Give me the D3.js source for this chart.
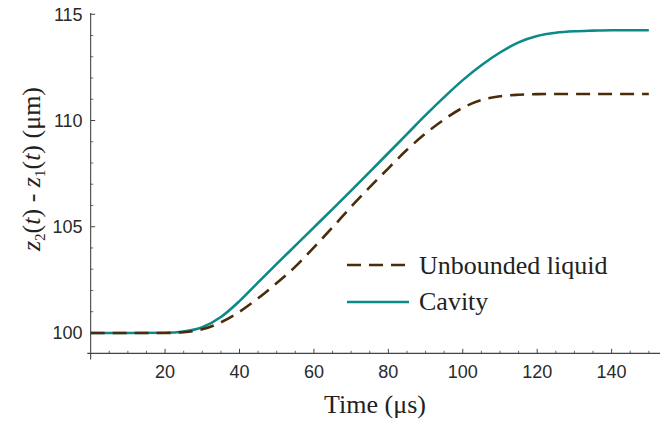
<!DOCTYPE html>
<html>
<head>
<meta charset="utf-8">
<script src="https://cdn.jsdelivr.net/npm/d3@7"></script>
<style>
  html, body { margin: 0; padding: 0; background: #ffffff; }
  svg { display: block; }
</style>
</head>
<body>
<svg id="chart" width="670" height="425"></svg>
<script>
// ---- data ----
const timeUs = [0, 10, 20, 25, 30, 35, 40, 45, 50, 55, 60, 65, 70, 75, 80, 85, 90, 95, 100, 105, 110, 115, 120, 125, 130, 135, 140, 145, 150];
const unboundedLiquid = [100, 100, 100.0, 100.04, 100.17, 100.5, 101.0, 101.63, 102.35, 103.12, 104.03, 104.97, 105.94, 106.86, 107.75, 108.62, 109.39, 110.05, 110.6, 110.96, 111.14, 111.21, 111.24, 111.25, 111.25, 111.25, 111.25, 111.25, 111.25];
const cavity = [100, 100, 100.01, 100.07, 100.27, 100.75, 101.5, 102.38, 103.25, 104.11, 104.97, 105.83, 106.7, 107.58, 108.47, 109.36, 110.25, 111.1, 111.9, 112.6, 113.2, 113.68, 113.98, 114.13, 114.2, 114.23, 114.25, 114.25, 114.25];
const seriesNames = ["Unbounded liquid", "Cavity"];
const xMajorTicks = [20, 40, 60, 80, 100, 120, 140];
const xMinorTicks = [5, 10, 15, 25, 30, 35, 45, 50, 55, 65, 70, 75, 85, 90, 95, 105, 110, 115, 125, 130, 135, 145, 150];
const yMajorTicks = [100, 105, 110, 115];
const yMinorTicks = [101, 102, 103, 104, 106, 107, 108, 109, 111, 112, 113, 114];
const xLabel = "Time (μs)";

// ---- layout ----
const svg = d3.select("#chart");
const x = d3.scaleLinear().domain([-0.9, 153]).range([87.3, 660]);
const y = d3.scaleLinear().domain([98.75, 115.06]).range([359.5, 13]);
const axisY0 = 99.04;   // where the horizontal axis sits
const teal = "#0b8a87";
const brown = "#4a2d08";
const axisColor = "#444";
const labelColor = "#2a2a2a";

// axes lines
svg.append("line").attr("x1", x(-0.9)).attr("x2", x(153)).attr("y1", y(axisY0)).attr("y2", y(axisY0))
  .attr("stroke", axisColor).attr("stroke-width", 1.1);
svg.append("line").attr("x1", x(0)).attr("x2", x(0)).attr("y1", y(98.75)).attr("y2", y(115.06))
  .attr("stroke", axisColor).attr("stroke-width", 1.1);

// x ticks
svg.selectAll(".xmaj").data(xMajorTicks).join("line")
  .attr("x1", d => x(d)).attr("x2", d => x(d))
  .attr("y1", y(axisY0)).attr("y2", y(axisY0) - 4.5)
  .attr("stroke", axisColor).attr("stroke-width", 1);
svg.selectAll(".xmin").data(xMinorTicks).join("line")
  .attr("x1", d => x(d)).attr("x2", d => x(d))
  .attr("y1", y(axisY0)).attr("y2", y(axisY0) - 2.6)
  .attr("stroke", axisColor).attr("stroke-width", 0.8);
svg.selectAll(".xlab").data(xMajorTicks).join("text")
  .attr("x", d => x(d)).attr("y", y(axisY0) + 25)
  .attr("text-anchor", "middle")
  .attr("font-family", "Liberation Sans, Arial, sans-serif").attr("font-size", 18)
  .attr("fill", labelColor)
  .text(d => d);

// y ticks
svg.selectAll(".ymaj").data(yMajorTicks).join("line")
  .attr("x1", x(0)).attr("x2", x(0) + 4.5)
  .attr("y1", d => y(d)).attr("y2", d => y(d))
  .attr("stroke", axisColor).attr("stroke-width", 1);
svg.selectAll(".ymin").data(yMinorTicks).join("line")
  .attr("x1", x(0)).attr("x2", x(0) + 2.6)
  .attr("y1", d => y(d)).attr("y2", d => y(d))
  .attr("stroke", axisColor).attr("stroke-width", 0.8);
svg.selectAll(".ylab").data(yMajorTicks).join("text")
  .attr("x", x(0) - 8).attr("y", d => y(d) + 6.5)
  .attr("text-anchor", "end")
  .attr("font-family", "Liberation Sans, Arial, sans-serif").attr("font-size", 18)
  .attr("fill", labelColor)
  .text(d => d);

// curves
const line = d3.line().x((d, i) => x(timeUs[i])).y(d => y(d)).curve(d3.curveMonotoneX);
svg.append("path").datum(cavity).attr("d", line)
  .attr("fill", "none").attr("stroke", teal).attr("stroke-width", 2.6);
svg.append("path").datum(unboundedLiquid).attr("d", line)
  .attr("fill", "none").attr("stroke", brown).attr("stroke-width", 2.6)
  .attr("stroke-dasharray", "14,8");

// axis labels
svg.append("text")
  .attr("x", 375).attr("y", 413)
  .attr("text-anchor", "middle")
  .attr("font-family", "Liberation Serif, Times New Roman, serif").attr("font-size", 26)
  .attr("fill", "#222")
  .text(xLabel);

const yl = svg.append("text")
  .attr("transform", "translate(40,169) rotate(-90)")
  .attr("text-anchor", "middle")
  .attr("font-family", "Liberation Serif, Times New Roman, serif").attr("font-size", 26)
  .attr("fill", "#222");
yl.append("tspan").attr("font-style", "italic").text("z");
yl.append("tspan").attr("font-size", 15).attr("dy", 5).text("2");
yl.append("tspan").attr("dy", -5).text("(");
yl.append("tspan").attr("font-style", "italic").text("t");
yl.append("tspan").text(") - ");
yl.append("tspan").attr("font-style", "italic").text("z");
yl.append("tspan").attr("font-size", 15).attr("dy", 5).text("1");
yl.append("tspan").attr("dy", -5).text("(");
yl.append("tspan").attr("font-style", "italic").text("t");
yl.append("tspan").text(") (μm)");

// legend
const legend = svg.append("g");
const legendRows = [
  { name: seriesNames[0], color: brown, dash: "14,8", ly: 265, ty: 273.5 },
  { name: seriesNames[1], color: teal, dash: null, ly: 302, ty: 310 }
];
legendRows.forEach(r => {
  legend.append("line").attr("x1", 347).attr("x2", 409).attr("y1", r.ly).attr("y2", r.ly)
    .attr("stroke", r.color).attr("stroke-width", 2.6)
    .attr("stroke-dasharray", r.dash);
  legend.append("text").attr("x", 419).attr("y", r.ty)
    .attr("font-family", "Liberation Serif, Times New Roman, serif").attr("font-size", 26)
    .attr("fill", "#222").text(r.name);
});
</script>
</body>
</html>
